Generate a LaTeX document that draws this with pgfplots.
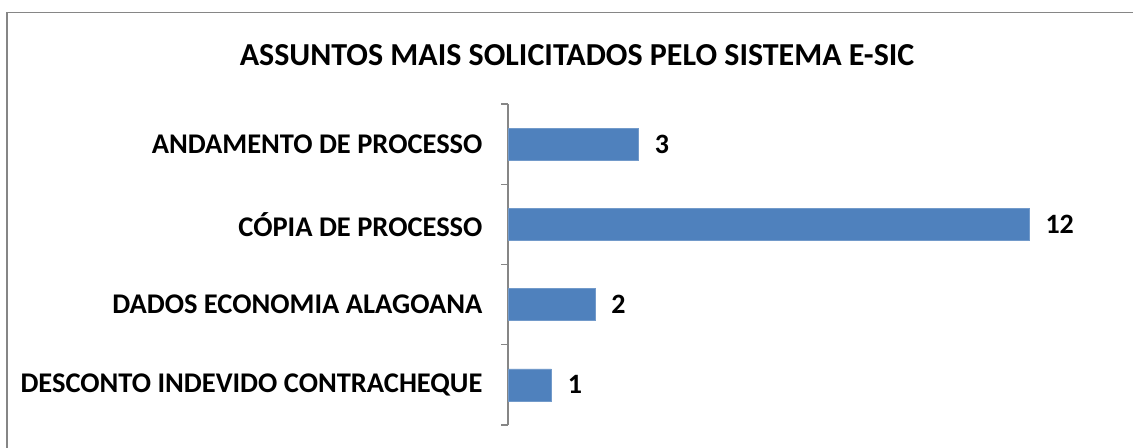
\documentclass[border=0pt]{standalone}
\usepackage{pgfplots}
\pgfplotsset{compat=1.18}
\usepackage{fontspec}
\setmainfont{Carlito}
\definecolor{barblue}{HTML}{4F81BD}
\definecolor{axgray}{HTML}{868686}
\begin{document}
\begin{tikzpicture}[x=1bp,y=1bp]
\useasboundingbox (0,0) rectangle (1133,448);
\draw[axgray,line width=1.5bp] (7,0) -- (7,435.5) -- (1133,435.5);
\node[font=\fontsize{32bp}{36bp}\selectfont\bfseries] at (577,393) {ASSUNTOS MAIS SOLICITADOS PELO SISTEMA E-SIC};
\begin{axis}[
  at={(508bp,23bp)}, anchor=south west,
  scale only axis, width=521bp, height=321bp,
  xmin=0, xmax=12, ymin=-0.5, ymax=3.5,
  axis x line=none, axis y line*=left,
  y axis line style={axgray,line width=1.2bp,-},
  ytick={0,1,2,3},
  yticklabels={DESCONTO INDEVIDO CONTRACHEQUE,DADOS ECONOMIA ALAGOANA,CÓPIA DE PROCESSO,ANDAMENTO DE PROCESSO},
  major tick length=0pt,
  extra y ticks={-0.5,0.5,1.5,2.5,3.5},
  extra y tick labels={},
  extra y tick style={major tick length=7bp, tick align=outside, tick style={axgray,line width=1.2bp}},
  yticklabel style={font=\fontsize{28.5bp}{32bp}\selectfont\bfseries, xshift=-22bp},
  xbar, bar width=0.4,
  nodes near coords,
  nodes near coords style={font=\fontsize{28bp}{32bp}\selectfont\bfseries, anchor=west, xshift=13bp},
  point meta=explicit symbolic,
  clip=false,
]
\addplot[fill=barblue, draw=barblue!80!white] coordinates {(1,0)[1] (2,1)[2] (12,2)[12] (3,3)[3]};
\end{axis}
\end{tikzpicture}
\end{document}
